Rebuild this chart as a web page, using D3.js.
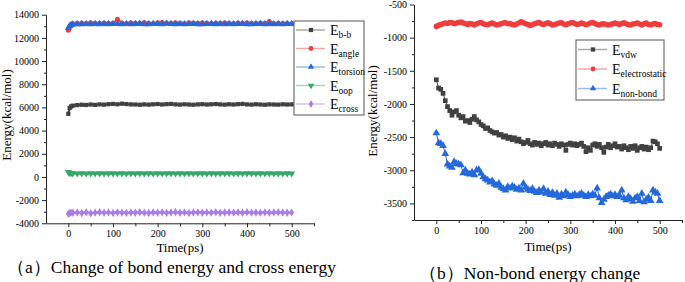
<!DOCTYPE html>
<html>
<head>
<meta charset="utf-8">
<script src="https://cdn.jsdelivr.net/npm/d3@7"></script>
<style>
  body { margin: 0; background: #fff; }
</style>
</head>
<body>
<div id="chart"></div>
<script>
// ---- data (a) bond / cross energy ----
const timeA = [0, 3, 6, 10, 20, 30, 40, 50, 60, 70, 80, 90, 100, 110, 120, 130, 140, 150, 160, 170,
  180, 190, 200, 210, 220, 230, 240, 250, 260, 270, 280, 290, 300, 310, 320, 330, 340, 350, 360, 370,
  380, 390, 400, 410, 420, 430, 440, 450, 460, 470, 480, 490, 500];
const eBB = [5450, 5950, 6080, 6150, 6200, 6230, 6210, 6250, 6220, 6260,
  6240, 6280, 6300, 6270, 6320, 6290, 6260, 6250, 6230, 6260,
  6240, 6270, 6290, 6250, 6280, 6300, 6260, 6240, 6270, 6250,
  6230, 6260, 6280, 6250, 6270, 6290, 6260, 6240, 6270, 6250,
  6280, 6300, 6260, 6240, 6270, 6250, 6230, 6260, 6250, 6240,
  6270, 6250, 6260];
const eAngle = [12650, 12950, 13150, 13220, 13250, 13280, 13240, 13300, 13260, 13250,
  13290, 13270, 13260, 13600, 13280, 13240, 13300, 13270, 13250, 13320,
  13260, 13240, 13300, 13330, 13280, 13250, 13300, 13270, 13240, 13310,
  13280, 13250, 13300, 13260, 13230, 13290, 13250, 13300, 13270, 13240,
  13280, 13250, 13300, 13260, 13240, 13280, 13250, 13420, 13240, 13270,
  13240, 13260, 13220];
const eTorsion = [12850, 13020, 13120, 13170, 13190, 13180, 13200, 13190, 13210, 13180,
  13200, 13190, 13210, 13200, 13180, 13210, 13190, 13200, 13220, 13190,
  13180, 13210, 13200, 13190, 13220, 13200, 13180, 13210, 13190, 13200,
  13210, 13190, 13180, 13200, 13220, 13190, 13200, 13180, 13210, 13190,
  13200, 13220, 13190, 13180, 13210, 13200, 13190, 13210, 13180, 13200,
  13190, 13210, 13200];
const eOop = [420, 340, 320, 310, 300, 310, 300, 305, 300, 310,
  300, 305, 310, 300, 305, 300, 310, 300, 305, 300,
  310, 300, 305, 300, 310, 305, 300, 310, 300, 305,
  300, 310, 305, 300, 310, 300, 305, 300, 310, 300,
  305, 300, 310, 305, 300, 310, 300, 305, 300, 310,
  300, 305, 300];
const eCross = [-3180, -3120, -3080, -3100, -3060, -3120, -3050, -3130, -3080, -3040,
  -3090, -3060, -3110, -3050, -3080, -3100, -3060, -3090, -3040, -3080,
  -3110, -3060, -3080, -3050, -3100, -3070, -3040, -3090, -3060, -3110,
  -3070, -3050, -3090, -3060, -3080, -3040, -3100, -3070, -3050, -3080,
  -3060, -3090, -3040, -3080, -3070, -3100, -3050, -3080, -3060, -3040,
  -3070, -3090, -3060];

// ---- data (b) non-bond energy ----
const timeB = [0, 5, 10, 15, 20, 25, 30, 35, 40, 45, 50, 55, 60, 65, 70, 75, 80, 85, 90, 95,
  100, 105, 110, 115, 120, 125, 130, 135, 140, 145, 150, 155, 160, 165, 170, 175, 180, 185, 190, 195,
  200, 205, 210, 215, 220, 225, 230, 235, 240, 245, 250, 255, 260, 265, 270, 275, 280, 285, 290, 295,
  300, 305, 310, 315, 320, 325, 330, 335, 340, 345, 350, 355, 360, 365, 370, 375, 380, 385, 390, 395,
  400, 405, 410, 415, 420, 425, 430, 435, 440, 445, 450, 455, 460, 465, 470, 475, 480, 485, 490, 495, 500];
const eVdw = [-1635, -1760, -1780, -1840, -1950, -2040, -2100, -2170, -2120, -2100,
  -2170, -2210, -2190, -2260, -2250, -2280, -2230, -2190, -2240, -2270,
  -2310, -2330, -2370, -2360, -2400, -2420, -2440, -2430, -2470, -2460,
  -2500, -2480, -2520, -2500, -2540, -2510, -2560, -2530, -2570, -2600,
  -2580, -2550, -2600, -2620, -2580, -2610, -2590, -2630, -2600, -2580,
  -2620, -2600, -2630, -2590, -2610, -2640, -2600, -2620, -2700, -2610,
  -2590, -2620, -2600, -2630, -2610, -2590, -2640, -2720, -2660, -2700,
  -2620, -2600, -2640, -2610, -2660, -2730, -2650, -2610, -2660, -2630,
  -2600, -2650, -2640, -2680, -2630, -2660, -2690, -2640, -2670, -2630,
  -2700, -2660, -2640, -2680, -2650, -2690, -2660, -2560, -2570, -2600,
  -2670];
const eElec = [-830, -815, -800, -790, -780, -785, -770, -775, -790, -780,
  -770, -765, -780, -790, -800, -785, -795, -810, -790, -780,
  -770, -790, -800, -805, -790, -780, -795, -810, -800, -790,
  -780, -775, -790, -785, -800, -810, -795, -780, -760, -775,
  -790, -800, -815, -805, -790, -780, -770, -790, -800, -785,
  -775, -790, -810, -800, -790, -780, -775, -795, -805, -790,
  -780, -770, -785, -800, -795, -780, -790, -805, -795, -780,
  -770, -785, -800, -810, -795, -790, -800, -810, -800, -790,
  -780, -790, -800, -785, -775, -790, -805, -810, -795, -790,
  -780, -795, -810, -790, -780, -800, -810, -795, -785, -800,
  -805];
const eNonBond = [-2440, -2590, -2600, -2630, -2750, -2910, -2940, -2960, -2870, -2900,
  -2910, -2920, -3040, -3000, -3050, -3060, -3030, -3070, -3000, -2990,
  -3050, -3100, -3130, -3150, -3180, -3160, -3210, -3230, -3200, -3260,
  -3280, -3300, -3250, -3270, -3240, -3260, -3290, -3270, -3300, -3200,
  -3260, -3290, -3310, -3280, -3320, -3340, -3300, -3330, -3280, -3350,
  -3320, -3370, -3340, -3380, -3350, -3410, -3360, -3390, -3330, -3370,
  -3400, -3380, -3360, -3390, -3370, -3350, -3380, -3400, -3370, -3390,
  -3360, -3380, -3270, -3420, -3490, -3440, -3400, -3380, -3360, -3390,
  -3370, -3400, -3380, -3300, -3420, -3450, -3400, -3430, -3470, -3420,
  -3400, -3460, -3350, -3480, -3440, -3410, -3460, -3300, -3330, -3350,
  -3460];

// ticks
const xTicks = [0, 100, 200, 300, 400, 500];
const xMinor = [50, 150, 250, 350, 450, 550];
const yTicksA = [-4000, -2000, 0, 2000, 4000, 6000, 8000, 10000, 12000, 14000];
const yMinorA = [-3000, -1000, 1000, 3000, 5000, 7000, 9000, 11000, 13000];
const yTicksB = [-3500, -3000, -2500, -2000, -1500, -1000, -500];
const yMinorB = [-3750, -3250, -2750, -2250, -1750, -1250, -750];

const legendA = [["E", "b-b"], ["E", "angle"], ["E", "torsion"], ["E", "oop"], ["E", "cross"]];
const legendB = [["E", "vdw"], ["E", "electrostatic"], ["E", "non-bond"]];

const C = {black: "#404040", red: "#f03c3c", blue: "#2469db", green: "#35a866", purple: "#ad7be6"};
const SERIF = '"Liberation Serif"';

const W = 685, H = 282;
const svg = d3.select("#chart").append("svg").attr("width", W).attr("height", H);

function panel(p) {
  const x = d3.scaleLinear().domain([-50, 550]).range(p.xr);
  const y = d3.scaleLinear().domain(p.yd).range(p.yr);
  const g = svg.append("g");
  const fmt = d => String(d);

  // minor ticks first
  g.append("g").attr("transform", `translate(0,${p.yr[0]})`)
    .call(d3.axisBottom(x).tickValues(xMinor).tickFormat("").tickSize(3).tickSizeOuter(0))
    .call(a => a.select(".domain").remove());
  g.append("g").attr("transform", `translate(${p.xr[0]},0)`)
    .call(d3.axisLeft(y).tickValues(p.yMinor).tickFormat("").tickSize(2).tickSizeOuter(0))
    .call(a => a.select(".domain").remove());

  g.append("g").attr("transform", `translate(0,${p.yr[0]})`)
    .call(d3.axisBottom(x).tickValues(xTicks).tickFormat(fmt).tickSize(4).tickPadding(3).tickSizeOuter(0))
    .call(a => a.selectAll("text").style("font-size", "10px").style("font-family", SERIF));
  g.append("g").attr("transform", `translate(${p.xr[0]},0)`)
    .call(d3.axisLeft(y).tickValues(p.yTicks).tickFormat(fmt).tickSize(4).tickPadding(3).tickSizeOuter(0))
    .call(a => a.selectAll("text").style("font-size", "10px").style("font-family", SERIF));
  g.selectAll(".domain, .tick line").attr("stroke", "#222").attr("stroke-width", 1);

  g.append("text").attr("x", p.xTitle[0]).attr("y", p.xTitle[1])
    .attr("text-anchor", "middle").style("font-family", SERIF).style("font-size", "13px").text("Time(ps)");
  g.append("text")
    .attr("transform", `translate(${p.yTitle[0]},${p.yTitle[1]}) rotate(-90)`)
    .attr("text-anchor", "middle").style("font-family", SERIF).style("font-size", "13px").text("Energy(kcal/mol)");

  p.series.forEach(s => {
    const pts = s.values.map((v, i) => [s.time[i], v]);
    g.append("path").datum(pts)
      .attr("fill", "none").attr("stroke", s.color).attr("stroke-width", s.lw)
      .attr("d", d3.line().x(d => x(d[0])).y(d => y(d[1])));
    g.append("g").selectAll("path").data(pts).join("path")
      .attr("transform", d => `translate(${x(d[0])},${y(d[1])})${s.flip ? " rotate(180)" : ""}`)
      .attr("d", d3.symbol(s.sym, s.size))
      .attr("fill", s.color);
  });

  // legend
  const L = p.legend;
  g.append("rect").attr("x", L.x).attr("y", L.y).attr("width", L.w).attr("height", L.h)
    .attr("fill", "#fff").attr("stroke", "#555").attr("stroke-width", 1);
  p.series.forEach((s, i) => {
    const ly = L.y0 + i * L.dy;
    g.append("line").attr("x1", L.x + 2).attr("x2", L.x + 31).attr("y1", ly).attr("y2", ly)
      .attr("stroke", s.color).attr("stroke-width", 1.5).attr("stroke-opacity", 0.45);
    g.append("path")
      .attr("transform", `translate(${L.x + 17},${ly})${s.flip ? " rotate(180)" : ""}`)
      .attr("d", d3.symbol(s.sym, 18)).attr("fill", s.color);
    const t = g.append("text").attr("x", L.x + 36).attr("y", ly + 5)
      .style("font-family", SERIF).style("font-size", "14px");
    t.append("tspan").text(s.label[0]);
    t.append("tspan").style("font-size", "9.5px").attr("dy", 3).text(s.label[1]);
  });
}

panel({
  xr: [46, 314], yd: [-4000, 14000], yr: [223.3, 14.7],
  yTicks: yTicksA, yMinor: yMinorA,
  xTitle: [180, 252], yTitle: [11, 115],
  series: [
    {time: timeA, values: eBB, color: C.black, sym: d3.symbolSquare, size: 18, lw: 2, label: legendA[0]},
    {time: timeA, values: eAngle, color: C.red, sym: d3.symbolCircle, size: 20, lw: 2, label: legendA[1]},
    {time: timeA, values: eTorsion, color: C.blue, sym: d3.symbolTriangle, size: 22, lw: 2.5, label: legendA[2]},
    {time: timeA, values: eOop, color: C.green, sym: d3.symbolTriangle, flip: true, size: 22, lw: 2.5, label: legendA[3]},
    {time: timeA, values: eCross, color: C.purple, sym: d3.symbolDiamond, size: 20, lw: 2.5, label: legendA[4]}
  ],
  legend: {x: 294, y: 21, w: 70, h: 94, y0: 30, dy: 18.5}
});

panel({
  xr: [414, 682], yd: [-3750, -500], yr: [220, 4.5],
  yTicks: yTicksB, yMinor: yMinorB,
  xTitle: [548, 251], yTitle: [377, 111],
  series: [
    {time: timeB, values: eVdw, color: C.black, sym: d3.symbolSquare, size: 22, lw: 1, label: legendB[0]},
    {time: timeB, values: eElec, color: C.red, sym: d3.symbolCircle, size: 24, lw: 2, label: legendB[1]},
    {time: timeB, values: eNonBond, color: C.blue, sym: d3.symbolTriangle, size: 26, lw: 1, label: legendB[2]}
  ],
  legend: {x: 576, y: 40, w: 88, h: 60, y0: 49.5, dy: 19.5}
});

// captions
svg.append("text").attr("x", 7).attr("y", 273)
  .style("font-family", SERIF).style("font-size", "17.5px")
  .text("（a）Change of bond energy and cross energy");
svg.append("text").attr("x", 419).attr("y", 279)
  .style("font-family", SERIF).style("font-size", "17.5px")
  .text("（b）Non-bond energy change");
</script>
</body>
</html>
